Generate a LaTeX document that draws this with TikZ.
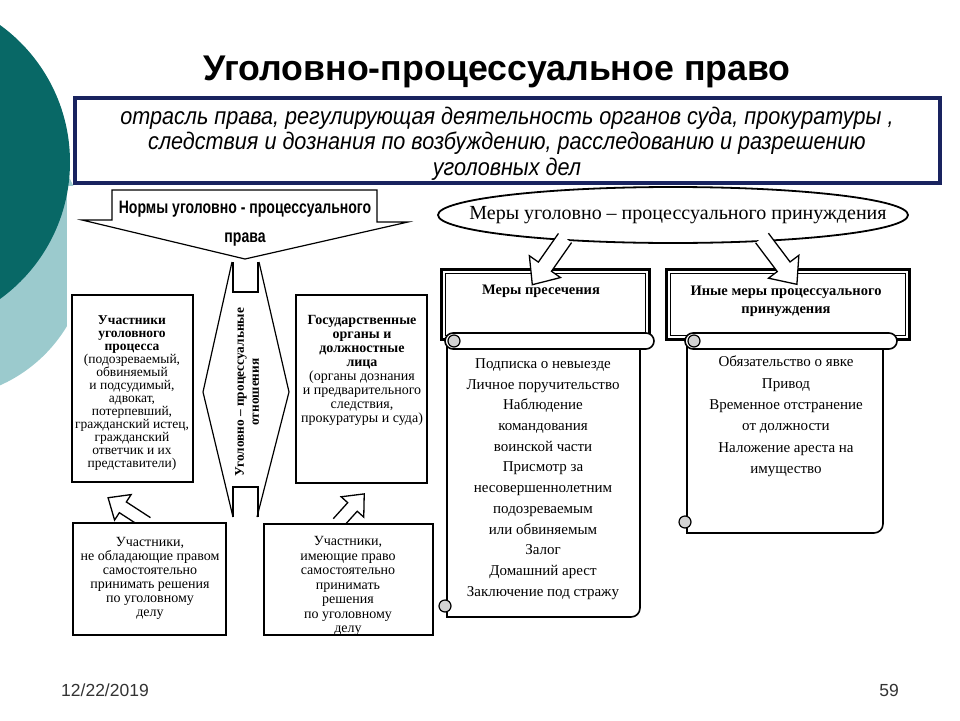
\documentclass[tikz,border=0pt]{standalone}
\usepackage{fontspec}
\setmainfont{Liberation Serif}
\setsansfont{Liberation Sans}
\newfontfamily\narrowsans[FakeStretch=0.78]{Liberation Sans}
\newfontfamily\defsans[FakeStretch=0.9]{Liberation Sans}
\usepackage{tikz}
\usetikzlibrary{shapes, arrows, calc, positioning, arrows.meta}
\definecolor{xDarkTeal}{RGB}{8,104,102}
\definecolor{xLightTeal}{RGB}{155,202,205}
\definecolor{xNavy}{RGB}{25,35,95}
\newcommand{\fsz}[2]{\fontsize{#1}{#2}\selectfont}
% start, angle, length, scale
\newcommand{\blockarrow}[4]{%
  \draw[blockarr, shift={#1}, rotate=#2, scale=#4] (0,-8) -- (#3-22,-8) -- (#3-22,-19) -- (#3,0) -- (#3-22,19) -- (#3-22,8) -- (0,8);}

\begin{document}
\begin{tikzpicture}[x=1pt, y=-1pt,
    box/.style={draw, line width=1.2pt, fill=white},
    boxtext/.style={align=center, font=\fsz{13.5}{13}},
    measbox/.style={draw, line width=2.5pt, fill=white, anchor=north west},
    blockarr/.style={draw, line width=1.3pt, fill=white, line join=miter},
    scrollline/.style={draw, line width=1.6pt, fill=white}]
    \clip (0,0) rectangle (960,720);
    % background circles
    \fill[xLightTeal] (-60,250) circle (148pt);
    \fill[white] (67,186) rectangle (960,720);
    \fill[xDarkTeal] (-99,162) circle (169pt);

    \node[font=\sffamily\bfseries\fsz{35.7}{38}] (heading) at (497,72) {Уголовно-процессуальное право};
    \node[draw=xNavy, line width=4pt, fill=white, minimum width=865pt, minimum height=85pt] (definition) at (507.5,140.5) {};
    \node[align=center, font=\defsans\itshape\fsz{24}{25.5}] (definitiontext) at (507,143.5)
      {отрасль права, регулирующая деятельность органов суда, прокуратуры ,\\
       следствия и дознания по возбуждению, расследованию и разрешению\\
       уголовных дел};

    % left half
    \draw[line width=1.2pt, fill=white] (112,190) -- (377,190) -- (377,222) -- (408,222) -- (245,259) -- (82,220) -- (112,220) -- cycle;
    \node[font=\narrowsans\bfseries\fsz{18}{29}, align=center] (norms) at (245,224) {Нормы уголовно - процессуального\\права};

    \draw[line width=1.2pt] (232,262) -- (203,392) -- (233,517);
    \draw[line width=1.2pt] (259,262) -- (289,392) -- (257,517);
    \draw[line width=1.2pt] (233,262) |- (258,292) -- (258,262);
    \draw[line width=1.2pt] (233,517) |- (258,487) -- (258,517);
    \node[rotate=90, align=center, font=\bfseries\fsz{13.3}{15}] (relations) at (247,392) {Уголовно – процессуальные\\отношения};

    \node[box, minimum width=121pt, minimum height=187pt] (parties) at (132.5,388.5) {};
    \node[boxtext] (partiestext) at (132,393) {\textbf{Участники}\\ \textbf{уголовного}\\ \textbf{процесса}\\
      (подозреваемый,\\ обвиняемый\\ и подсудимый,\\ адвокат,\\ потерпевший,\\
      гражданский истец,\\ гражданский\\ ответчик и их\\ представители)};

    \node[box, minimum width=131pt, minimum height=188pt] (organs) at (361.5,389) {};
    \node[boxtext, font=\fsz{14}{14}] (organstext) at (362,370) {\textbf{Государственные}\\ \textbf{органы и}\\
      \textbf{должностные}\\ \textbf{лица}\\ (органы дознания\\ и предварительного\\ следствия,\\ прокуратуры и суда)};

    \blockarrow{(147,523)}{147}{58}{0.8}
    \blockarrow{(338,523)}{48}{49}{0.8}
    \node[box, minimum width=153pt, minimum height=112pt] (nonrights) at (149.5,579) {};
    \node[boxtext, font=\fsz{14}{14}] (nonrightstext) at (150,578) {Участники,\\ не обладающие правом\\
      самостоятельно\\ принимать решения\\ по уголовному\\ делу};
    \node[box, minimum width=169pt, minimum height=111pt] (rights) at (348.5,579.5) {};
    \node[boxtext, font=\fsz{14}{14.5}] (rightstext) at (348,586) {Участники,\\ имеющие право\\
      самостоятельно\\ принимать\\ решения\\ по уголовному\\ делу};

    % right half
    \node[font=\fsz{20}{22}] (coercion) at (678,215) {Меры уголовно – процессуального принуждения};
    \draw[line width=1.8pt] (673,215) ellipse (235pt and 28pt);

    \node[measbox, minimum width=208pt, minimum height=70pt] (preventive) at (440,268) {};
    \draw[line width=0.8pt] ([shift={(5,5)}]preventive.north west) rectangle ([shift={(-5,-5)}]preventive.south east);
    \node[font=\bfseries\fsz{14.5}{16}] (preventivetext) at (541,291) {Меры пресечения};
    \node[measbox, minimum width=243pt, minimum height=70pt] (othermeas) at (665,268) {};
    \draw[line width=0.8pt] ([shift={(5,5)}]othermeas.north west) rectangle ([shift={(-5,-5)}]othermeas.south east);
    \node[font=\bfseries\fsz{14.5}{18}, align=center] (othertext) at (786,301) {Иные меры процессуального\\принуждения};

    \blockarrow{(565,238)}{-125}{57}{1}
    \blockarrow{(762,238)}{-53}{58}{1}

    % scrolls
    \foreach \xa/\xb/\yb in {447/640/617, 687/883/533} {
      \draw[scrollline] (\xa,345) -- (\xa,\yb) [rounded corners=9pt] -- (\xb,\yb) -- (\xb,345);
      \draw[scrollline, rounded corners=8pt] (\xa-2,333) rectangle (\xb+14,349);
      \draw[line width=1.2pt, fill=gray!35] (\xa+7,341) circle (6pt);
      \draw[line width=1.2pt, fill=gray!35] (\xa-2,\yb-11) circle (6pt);
    }
    \node[align=center, font=\fsz{15}{20.7}] (measures) at (543,479) {Подписка о невыезде\\ Личное поручительство\\
      Наблюдение\\ командования\\ воинской части\\ Присмотр за\\
      несовершеннолетним\\ подозреваемым\\ или обвиняемым\\
      Залог\\ Домашний арест\\ Заключение под стражу};
    \node[align=center, font=\fsz{15}{21.4}] (othermeasures) at (786,416.5) {Обязательство о явке\\ Привод\\
      Временное отстранение\\ от должности\\ Наложение ареста на\\ имущество};

    \node[font=\sffamily\fsz{17.5}{20}, text=black!80] (date) at (105,690) {12/22/2019};
    \node[font=\sffamily\fsz{17.5}{20}, text=black!80] (pagenum) at (889,690) {59};
\end{tikzpicture}
\end{document}
